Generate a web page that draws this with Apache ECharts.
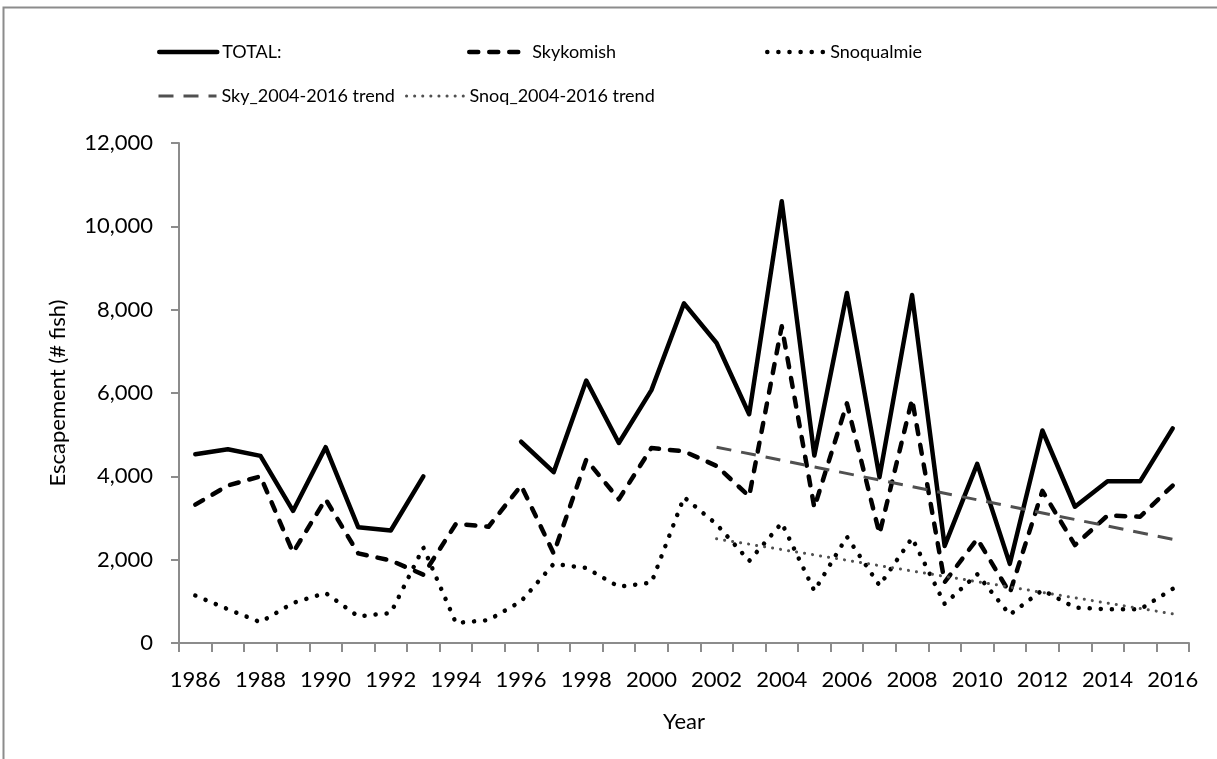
<!DOCTYPE html>
<html>
<head>
<meta charset="utf-8">
<script src="https://cdn.jsdelivr.net/npm/echarts@6/dist/echarts.min.js"></script>
<style>
html,body{margin:0;padding:0;background:#fff;}
#chart{width:1217px;height:759px;}
</style>
</head>
<body>
<div id="chart"></div>
<script>
const years = ['1986','1987','1988','1989','1990','1991','1992','1993','1994','1995','1996','1997','1998','1999','2000','2001','2002','2003','2004','2005','2006','2007','2008','2009','2010','2011','2012','2013','2014','2015','2016'];
const total = [4530,4650,4490,3170,4700,2780,2700,4000,null,null,4830,4100,6300,4800,6070,8150,7200,5490,10600,4500,8400,3980,8350,2330,4300,1900,5100,3270,3880,3880,5150];
const skykomish = [3320,3780,4000,2170,3450,2150,1980,1640,2860,2790,3780,2150,4400,3450,4680,4600,4250,3520,7600,3250,5750,2620,5850,1460,2500,1200,3650,2350,3060,3030,3780];
const snoqualmie = [1140,810,500,960,1200,640,720,2290,480,550,1000,1900,1800,1350,1450,3500,2850,1970,2880,1250,2550,1380,2520,940,1650,680,1270,850,810,810,1300];
const skyTrend = [null,null,null,null,null,null,null,null,null,null,null,null,null,null,null,null,4700,null,null,null,null,null,null,null,null,null,null,null,null,null,2490];
const snoqTrend = [null,null,null,null,null,null,null,null,null,null,null,null,null,null,null,null,2500,null,null,null,null,null,null,null,null,null,null,null,null,null,700];
const yTicks = {min:0, max:12000, interval:2000};

const FONT = 'Lato';
const chart = echarts.init(document.getElementById('chart'), null, {renderer:'canvas'});
const legendBase = {
  orient:'horizontal', itemWidth:58, itemHeight:14, padding:0,
  textStyle:{fontFamily:FONT, fontSize:18, color:'#000'},
  lineStyle:{width:'inherit', type:'inherit', cap:'inherit'},
  itemStyle:{color:'rgba(0,0,0,0)', borderColor:'rgba(0,0,0,0)', borderWidth:0, opacity:0},
  selectedMode:false
};
chart.setOption({
  backgroundColor:'#fff',
  animation:false,
  graphic:[{type:'rect', shape:{x:3.5, y:7.5, width:1400, height:900}, style:{fill:'none', stroke:'#8c8c8c', lineWidth:2}, silent:true}],
  legend:[
    Object.assign({}, legendBase, {data:['TOTAL:'], left:157, top:43}),
    Object.assign({}, legendBase, {data:['Skykomish'], left:467, top:43}),
    Object.assign({}, legendBase, {data:['Snoqualmie'], left:765, top:43}),
    Object.assign({}, legendBase, {data:['Sky_2004-2016 trend'], left:157, top:87}),
    Object.assign({}, legendBase, {data:['Snoq_2004-2016 trend'], left:405, top:87})
  ],
  grid:{left:179, right:28, top:143, bottom:116, containLabel:false},
  xAxis:{
    type:'category', data:years, boundaryGap:true,
    name:'Year', nameLocation:'middle', nameGap:68,
    nameTextStyle:{fontFamily:FONT, fontSize:22, color:'#000'},
    axisLine:{lineStyle:{color:'#8c8c8c', width:2}},
    axisTick:{show:true, interval:0, length:9, lineStyle:{color:'#8c8c8c', width:2}},
    axisLabel:{interval:1, margin:26, fontFamily:FONT, fontSize:22, color:'#000'},
    splitLine:{show:false}
  },
  yAxis:{
    type:'value', min:yTicks.min, max:yTicks.max, interval:yTicks.interval,
    name:'Escapement (# fish)', nameLocation:'middle', nameGap:110, nameRotate:90,
    nameTextStyle:{fontFamily:FONT, fontSize:22, color:'#000'},
    axisLine:{show:true, lineStyle:{color:'#8c8c8c', width:2}},
    axisTick:{show:true, length:8, lineStyle:{color:'#8c8c8c', width:2}},
    axisLabel:{margin:26, fontFamily:FONT, fontSize:22, color:'#000',
      formatter:v=>v.toLocaleString('en-US')},
    splitLine:{show:false}
  },
  series:[
    {name:'TOTAL:', type:'line', data:total, symbol:'none', connectNulls:false,
     lineStyle:{color:'#000', width:4.5, cap:'round', join:'round'}, itemStyle:{color:'#000'}},
    {name:'Skykomish', type:'line', data:skykomish, symbol:'none',
     lineStyle:{color:'#000', width:4.5, type:[9,11], cap:'round', join:'round'}, itemStyle:{color:'#000'}},
    {name:'Snoqualmie', type:'line', data:snoqualmie, symbol:'none',
     lineStyle:{color:'#000', width:4.5, type:[0.1,11], cap:'round', join:'round'}, itemStyle:{color:'#000'}},
    {name:'Sky_2004-2016 trend', type:'line', data:skyTrend, symbol:'none', connectNulls:true,
     lineStyle:{color:'#505050', width:3, type:[15,10], cap:'butt'}, itemStyle:{color:'#505050'}},
    {name:'Snoq_2004-2016 trend', type:'line', data:snoqTrend, symbol:'none', connectNulls:true,
     lineStyle:{color:'#505050', width:3, type:[0.1,8], cap:'round'}, itemStyle:{color:'#505050'}}
  ]
});
</script>
</body>
</html>
